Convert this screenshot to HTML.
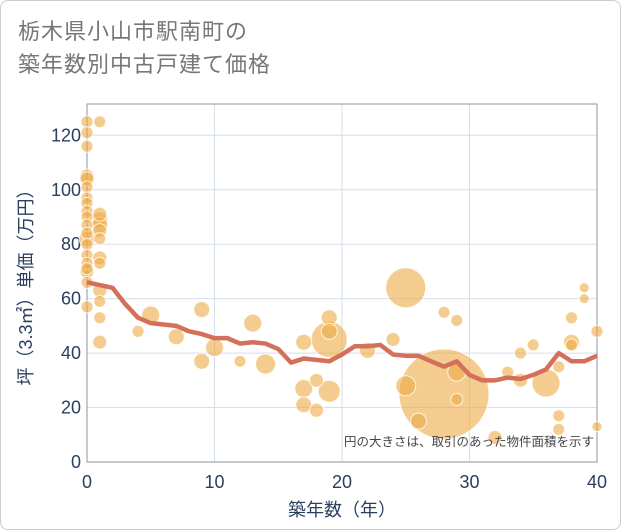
<!DOCTYPE html>
<html><head><meta charset="utf-8"><style>
body{margin:0;background:#fff;font-family:"Liberation Sans","Noto Sans CJK JP",sans-serif}
#card{position:absolute;left:0;top:0;width:619px;height:528px;border:1px solid #ccc;border-radius:8px;background:#fff}
#title{position:absolute;left:17px;top:14px;font-size:22px;line-height:33px;color:#777;letter-spacing:1px}
</style></head><body>
<div id="card">
<div id="title">栃木県小山市駅南町の<br>築年数別中古戸建て価格</div>
<svg id="chart" width="621" height="530" style="position:absolute;left:0;top:0"></svg>
</div>
<script>
const xTicks=[0,10,20,30,40];
const yTicks=[0,20,40,60,80,100,120];
const trendX=[0,1,2,3,4,5,6,7,8,9,10,11,12,13,14,15,16,17,18,19,20,21,22,23,24,25,26,27,28,29,30,31,32,33,34,35,36,37,38,39,40];
const trendY=[66,65,64,58,53,51,50.5,50,48,47,45.5,45.5,43.5,44,43.5,41.5,36.5,38,37.5,37,39.5,42.5,42.5,43,39.5,39,39,37,35,37,32,30,30,31,30.5,32,34,40,37,37,39];
const bubX=[0,0,0,0,0,0,0,0,0,0,0,0,0,0,0,0,0,0,0,0,1,1,1,1,1,1,1,1,1,1,1,1,4,5,7,9,9,10,12,13,14,17,17,17,18,18,19,19,19,19,22,24,25,25,26,28,29,28,29,29,32,33,34,34,35,36,37,37,37,38,38,38,39,39,40,40];
const bubY=[125,121,116,105,104,101,97,95,92,90,87,84,82,80,76,73,71,70,66,57,125,91,89,87,85,82,75,73,63,59,53,44,48,54,46,56,37,42,37,51,36,44,27,21,30,19,53,48,45,26,41,45,64,28,15,55,52,25,33,23,9,33,40,30,43,29,17,12,35,53,44,43,64,60,48,13];
const bubR=[6,6,6,7,7,6,6,6,6,6,6,6,8,6,6,6,6,7,6,6,6,7,8,8,7,6,7,6,7,6,6,7,6,9,8,8,8,9,6,9,10,8,9,8,7,7,8,8,18,11,8,7,20,10,8,6,6,45,9,6,7,6,6,7,6,14,6,6,6,6,8,6,5,5,6,5];
const L=86,R=596,T=103,B=461;
const xs=v=>L+(v/40)*(R-L);
const ys=v=>B-(v/131.5)*(B-T);
const svg=document.getElementById('chart');const NS='http://www.w3.org/2000/svg';
function mk(t,a){const e=document.createElementNS(NS,t);for(const k in a)e.setAttribute(k,a[k]);svg.appendChild(e);return e;}
yTicks.forEach(v=>{const l=mk('line',{x1:L,x2:R,y1:ys(v),y2:ys(v),stroke:'#d5dfea','stroke-width':1});


const t=mk('text',{x:L-6,y:ys(v)+6,'text-anchor':'end','font-size':18,fill:'#2a3f5f'});t.textContent=v;

});
xTicks.forEach(v=>{const l=mk('line',{x1:xs(v),x2:xs(v),y1:T,y2:B,stroke:'#d5dfea','stroke-width':1});


const t=mk('text',{x:xs(v),y:B+26,'text-anchor':'middle','font-size':18,fill:'#2a3f5f'});t.textContent=v;

});
const fr=mk('rect',{x:L,y:T,width:R-L,height:B-T,fill:'none',stroke:'#8a94a0','stroke-width':1});


const order=bubR.map((r,i)=>i).sort((a,b)=>bubR[b]-bubR[a]);
order.forEach(i=>{const c=mk('circle',{cx:xs(bubX[i]),cy:ys(bubY[i]),r:bubR[i],fill:'rgba(238,170,70,0.6)',stroke:'rgba(255,255,255,0.8)','stroke-width':1});

});
const p=mk('polyline',{points:trendX.map((x,i)=>xs(x)+','+ys(trendY[i])).join(' '),fill:'none',stroke:'#d4705a','stroke-width':4.5,'stroke-linejoin':'round'});


const n=mk('text',{x:R-3,y:445,'text-anchor':'end','font-size':12.5,fill:'#444'});n.textContent='円の大きさは、取引のあった物件面積を示す';


const xt=mk('text',{x:(L+R)/2,y:515,'text-anchor':'middle','font-size':18,fill:'#2a3f5f'});xt.textContent='築年数（年）';


const yt=mk('text',{x:0,y:0,'text-anchor':'middle','font-size':18,fill:'#2a3f5f',transform:'translate(31,'+((T+B)/2)+') rotate(-90)'});yt.textContent='坪（3.3㎡）単価（万円）';


</script>
</body></html>
